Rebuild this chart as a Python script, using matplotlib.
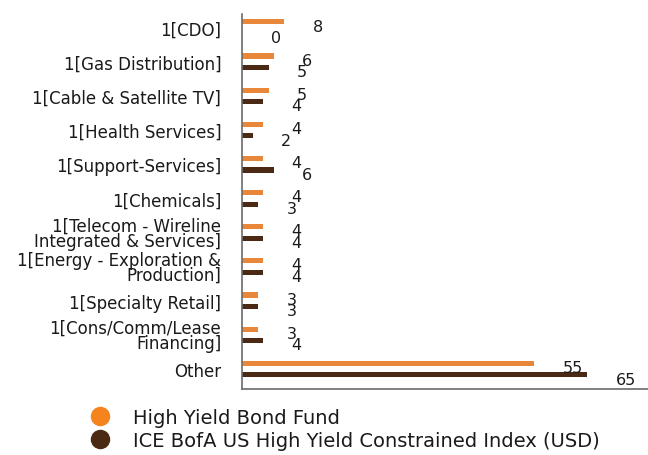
import matplotlib
matplotlib.use("Agg")
import matplotlib.pyplot as plt
from matplotlib.lines import Line2D
from matplotlib.transforms import offset_copy

categories = [
    "1[CDO]",
    "1[Gas Distribution]",
    "1[Cable & Satellite TV]",
    "1[Health Services]",
    "1[Support-Services]",
    "1[Chemicals]",
    "1[Telecom - Wireline\nIntegrated & Services]",
    "1[Energy - Exploration &\nProduction]",
    "1[Specialty Retail]",
    "1[Cons/Comm/Lease\nFinancing]",
    "Other",
]
fund = [8, 6, 5, 4, 4, 4, 4, 4, 3, 3, 55]
index = [0, 5, 4, 2, 6, 3, 4, 4, 3, 4, 65]
series_names = ["High Yield Bond Fund", "ICE BofA US High Yield Constrained Index (USD)"]

c_fund = "#E8873A"
c_index = "#4A2A14"
text_c = "#1a1a1a"

plt.rcParams['font.family'] = ['DejaVu Sans']

fig = plt.figure(figsize=(6.48, 4.56), dpi=100)
ax = fig.add_axes([0.3735, 0.1447, 0.6265, 0.822])

ypos = list(range(len(categories)))
h = 0.15
off = 0.17
y_f = [y - off for y in ypos]
y_i = [y + off for y in ypos]
ax.barh(y_f, fund, height=h, color=c_fund)
ax.barh(y_i, index, height=h, color=c_index)

ax.set_xlim(0, 76.5)
ax.set_ylim(10.585, -0.395)
ax.set_yticks(ypos)
ax.set_yticklabels(categories, fontsize=12, color=text_c, linespacing=0.82)
ax.tick_params(axis='y', length=0, pad=15)
ax.set_xticks([])
for s in ["top", "right"]:
    ax.spines[s].set_visible(False)
for s in ["left", "bottom"]:
    ax.spines[s].set_color("#6b6b6b")
    ax.spines[s].set_linewidth(1.2)

tr = offset_copy(ax.transData, fig=fig, x=20.5, y=-3, units='points')
for v, y in zip(fund, y_f):
    ax.text(v, y, str(v), transform=tr, ha='left', va='center', fontsize=11.5, color=text_c)
for v, y in zip(index, y_i):
    ax.text(v, y, str(v), transform=tr, ha='left', va='center', fontsize=11.5, color=text_c)

handles = [Line2D([], [], marker='o', linestyle='none', markersize=13, color=c) for c in ["#F5841F", "#4A2A12"]]
fig.legend(handles, series_names, loc='center left', bbox_to_anchor=(0.12, 0.057),
           frameon=False, fontsize=14, handletextpad=0.95, labelspacing=0.18, borderaxespad=0,
           labelcolor=text_c, handlelength=1.5)

fig.savefig("out.png", dpi=100)
